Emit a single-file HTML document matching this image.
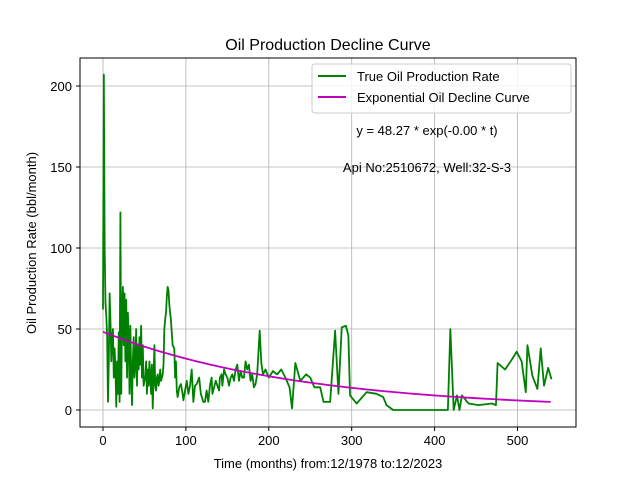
<!DOCTYPE html>
<html><head><meta charset="utf-8"><style>
body{margin:0;background:#fff}
svg{font-family:"Liberation Sans","DejaVu Sans",sans-serif}
</style></head><body>
<svg id="chart" width="640" height="480" viewBox="0 0 640 480">
<rect width="640" height="480" fill="#fff"/>
<text x="328" y="50" font-size="16" text-anchor="middle">Oil Production Decline Curve</text>
<text x="328" y="468" font-size="13" text-anchor="middle">Time (months) from:12/1978 to:12/2023</text>
<text transform="translate(36,243) rotate(-90)" font-size="13" text-anchor="middle">Oil Production Rate (bbl/month)</text>
<g id="grid"></g><g id="series"></g><g id="axes"></g>
<text x="427" y="135" font-size="13" text-anchor="middle">y = 48.27 * exp(-0.00 * t)</text>
<text x="427" y="172" font-size="13" text-anchor="middle">Api No:2510672, Well:32-S-3</text>
<g>
<rect x="312" y="64" width="259" height="49" fill="#fff" fill-opacity="0.85" stroke="#ccc" rx="3"/>
<line x1="318" y1="76" x2="346" y2="76" stroke="green" stroke-width="2"/>
<text x="357" y="81" font-size="13">True Oil Production Rate</text>
<line x1="318" y1="97" x2="346" y2="97" stroke="#bf00bf" stroke-width="2"/>
<text x="357" y="102" font-size="13">Exponential Oil Decline Curve</text>
</g>
</svg>
<script>
const xTicks=[0,100,200,300,400,500];
const yTicks=[0,50,100,150,200];
const months=[
0,1,2,3,4,5,6,7,8,9,
10,11,12,13,14,15,16,17,18,19,
20,21,22,23,24,25,26,27,28,29,
30,31,32,33,34,35,36,37,38,39,
40,41,42,43,44,45,46,47,48,49,
50,51,52,53,54,55,56,57,58,59,
60,61,62,63,64,65,66,67,68,69,
70,71,72,73,74,75,76,77,78,79,80,
82,84,86,87,88,89,90,92,94,96,
97,99,101,103,105,107,109,111,113,116,
118,121,123,125,127,129,131,132,134,136,
138,140,141,143,144,146,148,150,152,154,
156,158,160,162,164,166,168,170,172,174,
176,178,180,182,184,186,189,191,193,196,
200,205,210,215,220,225,228,232,238,245,
250,255,262,266,274,280,284,288,293,296,
298,306,318,330,338,342,350,380,416,419,
423,427,430,433,441,453,469,474,476,485,
493,499,505,510,512,518,524,528,532,537,541];
const rates=[
62,207,100,66,58,45,5,30,72,55,
30,45,50,20,38,25,2,30,10,48,
5,122,10,60,76,40,72,30,68,20,
60,45,10,52,22,3,30,45,20,28,
50,15,40,25,45,28,52,20,40,15,
18,20,30,10,25,15,30,20,10,28,
1,20,40,15,12,20,22,15,18,25,
18,20,22,28,50,56,60,70,76,74,65,
55,40,38,20,30,12,8,14,16,10,
6,12,18,10,15,25,5,15,16,20,
10,5,5,12,5,15,20,10,14,18,
15,12,20,22,15,25,22,20,15,20,
22,18,25,28,18,24,20,20,30,25,
28,18,22,14,16,22,49,29,22,25,
20,24,22,25,20,14,1,29,18,22,
20,14,14,5,5,49,10,51,52,46,
9,4,11,10,8,3,0,0,0,50,
0,9,0,9,4,3,4,3,29,25,
31,36,30,11,40,21,13,38,15,26,19];
const fitA=48.27, fitK=0.0042, fitEnd=541;
const X=v=>103+v*0.829, Y=v=>410-v*1.62;
const ns="http://www.w3.org/2000/svg";
function mk(t,a,p){const e=document.createElementNS(ns,t);for(const k in a)e.setAttribute(k,a[k]);p.appendChild(e);return e;}
const grid=document.getElementById('grid'),axes=document.getElementById('axes'),ser=document.getElementById('series');
xTicks.forEach(t=>{const g=mk('line',{x1:X(t),x2:X(t),y1:58,y2:427,stroke:'#b0b0b0','stroke-width':0.8},grid);

mk('line',{x1:X(t),x2:X(t),y1:427,y2:431,stroke:'#000'},axes);
const tx=mk('text',{x:X(t),y:445,'font-size':13,'text-anchor':'middle'},axes);tx.textContent=t;
});
yTicks.forEach(t=>{const g=mk('line',{x1:80,x2:576,y1:Y(t),y2:Y(t),stroke:'#b0b0b0','stroke-width':0.8},grid);

mk('line',{x1:76,x2:80,y1:Y(t),y2:Y(t),stroke:'#000'},axes);
const tx=mk('text',{x:72,y:Y(t)+5,'font-size':13,'text-anchor':'end'},axes);tx.textContent=t;
});
const fr=mk('rect',{x:80,y:58,width:496,height:369,fill:'none',stroke:'#000','stroke-width':1},axes);

const n=Math.min(months.length,rates.length);
const pts=[];for(let i=0;i<n;i++)pts.push(X(months[i])+','+Y(rates[i]));
const p1=mk('polyline',{points:pts.join(' '),fill:'none',stroke:'green','stroke-width':1.8,'stroke-linejoin':'round'},ser);

const fp=[];for(let t=0;t<=fitEnd;t+=5)fp.push(X(t)+','+Y(fitA*Math.exp(-fitK*t)));
const p2=mk('polyline',{points:fp.join(' '),fill:'none',stroke:'#bf00bf','stroke-width':1.8},ser);

</script>
</body></html>
